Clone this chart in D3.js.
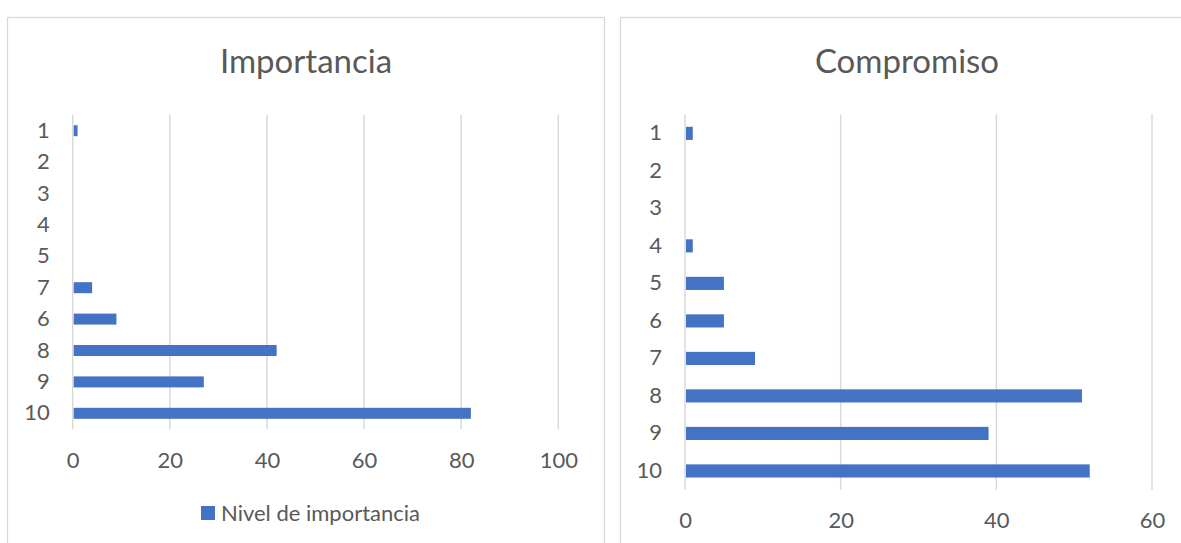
<!DOCTYPE html>
<html>
<head>
<meta charset="utf-8">
<script src="https://cdn.jsdelivr.net/npm/d3@7"></script>
<style>
  body { margin: 0; background: #fff; }
  svg { display: block; font-family: Lato, 'Open Sans', sans-serif; }
</style>
</head>
<body>
<div id="chart"></div>
<script>
// data
const importanciaCats = ['1', '2', '3', '4', '5', '7', '6', '8', '9', '10']
const importanciaVals = [1, 0, 0, 0, 0, 4, 9, 42, 27, 82]
const importanciaTicks = [0, 20, 40, 60, 80, 100]

const compromisoCats = ['1', '2', '3', '4', '5', '6', '7', '8', '9', '10']
const compromisoVals = [1, 0, 0, 1, 5, 5, 9, 51, 39, 52]
const compromisoTicks = [0, 20, 40, 60]

const width = 1181
const height = 543
const barColor = '#4472c4'
const gridColor = '#d9d9d9'
const textColor = '#595959'

const svg = d3
  .select('#chart')
  .append('svg')
  .attr('width', width)
  .attr('height', height)

function drawChart(opts) {
  const g = svg.append('g')

  // chart frame
  g.append('rect')
    .attr('x', opts.box[0] + 0.5)
    .attr('y', opts.box[1] + 0.5)
    .attr('width', opts.box[2])
    .attr('height', opts.box[3])
    .attr('fill', '#fff')
    .attr('stroke', gridColor)
    .attr('stroke-width', 1.3)

  // title
  g.append('text')
    .attr('x', opts.titleX)
    .attr('y', 73)
    .attr('text-anchor', 'middle')
    .attr('font-size', 33)
    .attr('font-weight', 400)
    .attr('fill', textColor)
    .text(opts.title)

  const x = d3.scaleLinear().domain([0, opts.max]).range(opts.xRange)
  const y = d3
    .scaleBand()
    .domain(opts.cats)
    .range(opts.yRange)
    .paddingInner(0.65)
    .paddingOuter(0.325)

  // gridlines
  g.selectAll('.grid')
    .data(opts.ticks)
    .enter()
    .append('line')
    .attr('x1', d => x(d))
    .attr('x2', d => x(d))
    .attr('y1', opts.yRange[0])
    .attr('y2', opts.yRange[1])
    .attr('stroke', gridColor)
    .attr('stroke-width', 1.5)

  // x axis labels
  const xAxis = d3.axisBottom(x).tickValues(opts.ticks).tickSize(0).tickPadding(0)
  const xg = g.append('g')
    .attr('transform', `translate(0,${opts.xLabelY})`)
    .call(xAxis)
  xg.select('.domain').remove()
  xg.selectAll('text')
    .attr('font-size', 22)
    .attr('font-family', 'Lato, sans-serif')
    .attr('fill', textColor)
    .attr('dy', '0.35em')

  // y axis labels
  const yAxis = d3.axisLeft(y).tickSize(0).tickPadding(23)
  const yg = g.append('g')
    .attr('transform', `translate(${opts.xRange[0]},0)`)
    .call(yAxis)
  yg.select('.domain').remove()
  yg.selectAll('text')
    .attr('font-size', 22)
    .attr('font-family', 'Lato, sans-serif')
    .attr('fill', textColor)

  // bars
  g.selectAll('.bar')
    .data(opts.vals)
    .enter()
    .append('rect')
    .attr('x', x(0) + 1)
    .attr('y', (d, i) => y(opts.cats[i]))
    .attr('width', d => Math.max(0, x(d) - x(0) - 1))
    .attr('height', y.bandwidth())
    .attr('fill', barColor)

  return g
}

const left = drawChart({
  box: [7, 17, 597, 560],
  title: 'Importancia',
  titleX: 306,
  cats: importanciaCats,
  vals: importanciaVals,
  ticks: importanciaTicks,
  max: 100,
  xRange: [72.7, 558.3],
  yRange: [115, 429],
  xLabelY: 460
})

drawChart({
  box: [620, 17, 600, 560],
  title: 'Compromiso',
  titleX: 907,
  cats: compromisoCats,
  vals: compromisoVals,
  ticks: compromisoTicks,
  max: 60,
  xRange: [685, 1152],
  yRange: [114.6, 489.7],
  xLabelY: 520
})

// legend for the first chart
const legend = left.append('g').attr('transform', 'translate(201,506)')
legend.append('rect')
  .attr('width', 14)
  .attr('height', 14)
  .attr('fill', barColor)
legend.append('text')
  .attr('x', 20)
  .attr('y', 7)
  .attr('dy', '0.35em')
  .attr('font-size', 22)
  .attr('fill', textColor)
  .text('Nivel de importancia')
</script>
</body>
</html>
